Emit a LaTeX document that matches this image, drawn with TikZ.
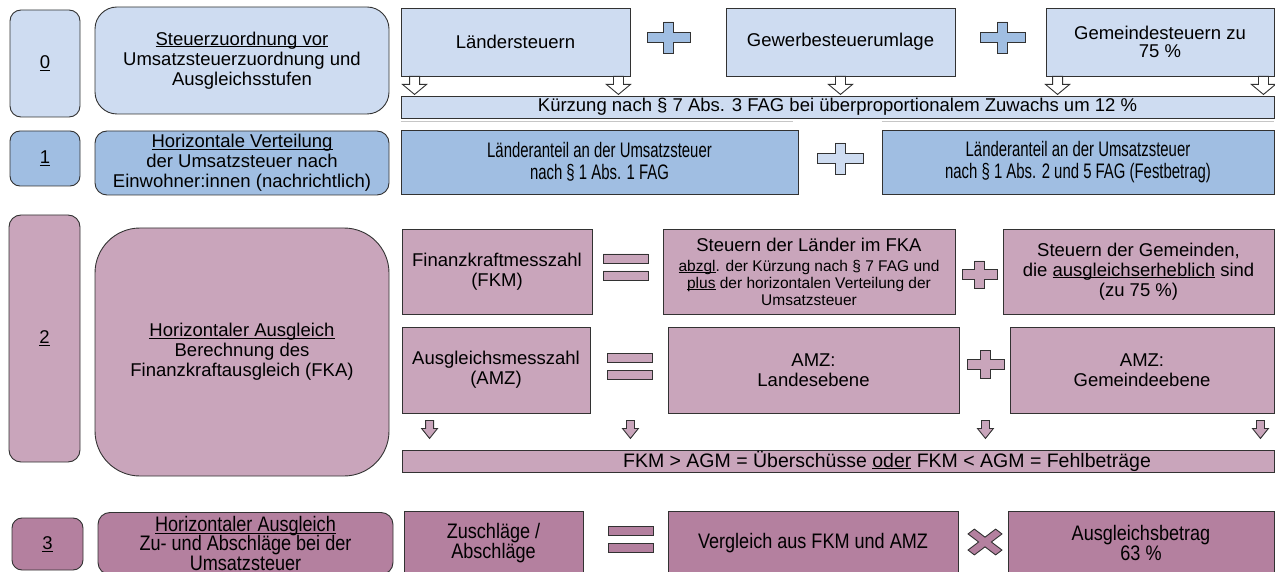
\documentclass[tikz,border=0pt]{standalone}
\usepackage{fontspec}
\setmainfont{Liberation Sans}
\newfontfamily\narrowfont[FakeStretch=0.71]{Liberation Sans}
\newfontfamily\tallfont[FakeStretch=0.86]{Liberation Sans}
\usepackage{tikz}
\usetikzlibrary{positioning}
\definecolor{paleblue}{RGB}{206,220,241}
\definecolor{midblue}{RGB}{160,190,226}
\definecolor{mauve}{RGB}{201,165,187}
\definecolor{deepmauve}{RGB}{180,128,159}
\definecolor{edge}{RGB}{50,50,50}
\newcommand{\smalltxt}{\fontsize{15.5}{17}\selectfont}
\newcommand{\uln}[1]{\underline{\raisebox{0pt}[\height][0pt]{#1}}}
\newcommand{\plussign}[4][]{\draw[op,#1] #2 ++(-5,-#4) -- ++(10,0) -- ++(0,#4-5) -- ++(#3-5,0) -- ++(0,10) -- ++(5-#3,0) -- ++(0,#4-5) -- ++(-10,0) -- ++(0,5-#4) -- ++(5-#3,0) -- ++(0,-10) -- ++(#3-5,0) -- cycle;}
\newcommand{\equalsign}[2][]{\draw[op,#1] #2 ++(-22.5,-13) rectangle ++(45,9) #2 ++(-22.5,4) rectangle ++(45,9);}
\newcommand{\crosssign}[2][]{\draw[op,#1,shift={#2},yscale=0.76,rotate=45] (-4.5,-19.5) -- (4.5,-19.5) -- (4.5,-4.5) -- (19.5,-4.5) -- (19.5,4.5) -- (4.5,4.5) -- (4.5,19.5) -- (-4.5,19.5) -- (-4.5,4.5) -- (-19.5,4.5) -- (-19.5,-4.5) -- (-4.5,-4.5) -- cycle;}
\newcommand{\blockarrow}[4][]{\draw[op,#1] #2 ++(-#3,0) -- ++(2*#3,0) -- ++(0,8) -- ++(#4-#3,0) -- ++(-#4,10) -- ++(-#4,-10) -- ++(#4-#3,0) -- cycle;}

\begin{document}
\begin{tikzpicture}[x=1pt,y=-1pt,font=\fontsize{18.5}{20}\selectfont,
    numbox/.style={draw=edge,line width=0.9pt,rounded corners=11pt,align=center,inner sep=0pt},
    titlebox/.style={draw=edge,line width=0.9pt,align=center,inner sep=0pt},
    cell/.style={draw=edge,line width=0.9pt,align=center,inner sep=1pt},
    op/.style={draw=edge,line width=0.9pt,line join=miter},
    narrow/.style={font={\narrowfont\fontsize{21}{22}\selectfont}},
    tall/.style={font={\tallfont\fontsize{21}{18.5}\selectfont}}]
    \useasboundingbox (0,0) rectangle (1275,572);
    \clip (0,0) rectangle (1275,572);

    \node [numbox,fill=paleblue,minimum width=70,minimum height=107] (n0) at (45,63.5) {\uln{0}};
    \node [titlebox,fill=paleblue,rounded corners=22pt,minimum width=294,minimum height=107] (ttl0) at (242,60.5)
        {\uln{Steuerzuordnung vor}\\Umsatzsteuerzuordnung und\\Ausgleichsstufen};
    \node [cell,fill=paleblue,minimum width=229,minimum height=68] (laender) at (515.5,42) {Ländersteuern};
    \node [cell,fill=paleblue,minimum width=229,minimum height=68] (gewerbe) at (840.5,42) {Gewerbesteuerumlage};
    \node [cell,fill=paleblue,minimum width=228,minimum height=68] (gemeinde) at (1160,42) {Gemeindesteuern zu\\[-2pt]75 \%};
    \node [cell,fill=paleblue,minimum width=873,minimum height=22,inner sep=0pt] (kuerzung) at (837.5,107)
        {Kürzung nach § 7 Abs. 3 FAG bei überproportionalem Zuwachs um 12 \%};
    \plussign[fill=midblue]{(668.5,37.5)}{21.5}{15.5}
    \plussign[fill=midblue]{(1002.5,37.5)}{22.5}{15.5}
    \blockarrow[fill=white]{([xshift=14pt]laender.south west)}{5}{12}
    \blockarrow[fill=white]{([xshift=-12pt]laender.south east)}{5}{12}
    \blockarrow[fill=white]{(gewerbe.south)}{5}{12}
    \blockarrow[fill=white]{([xshift=12pt]gemeinde.south west)}{5}{12}
    \blockarrow[fill=white]{([xshift=-11pt]gemeinde.south east)}{5}{12}

    \node [numbox,fill=midblue,rounded corners=10pt,minimum width=70,minimum height=55] (n1) at (45,158.5) {\uln{1}};
    \node [titlebox,fill=midblue,rounded corners=12pt,minimum width=294,minimum height=64] (ttl1) at (242,163)
        {\uln{Horizontale Verteilung}\\der Umsatzsteuer nach\\Einwohner:innen (nachrichtlich)};
    \node [cell,fill=midblue,minimum width=397,minimum height=64,narrow] (anteilA) at (599.5,162)
        {Länderanteil an der Umsatzsteuer\\nach § 1 Abs. 1 FAG};
    \node [cell,fill=midblue,minimum width=392,minimum height=64,narrow] (anteilB) at (1078,162)
        {Länderanteil an der Umsatzsteuer\\nach § 1 Abs. 2 und 5 FAG (Festbetrag)};
    \plussign[fill=paleblue]{(840,158.5)}{23}{15.5}
    \draw [gray!45,line width=0.8pt] ([yshift=8pt]anteilA.north west) -- ([yshift=8pt,xshift=-5pt]anteilA.north east);
    \draw [gray!45,line width=0.8pt] ([yshift=8pt]anteilB.north west) -- ([yshift=8pt]anteilB.north east);

    \node [numbox,fill=mauve,rounded corners=12pt,minimum width=71,minimum height=247] (n2) at (44.5,338.5) {\uln{2}};
    \node [titlebox,fill=mauve,rounded corners=45pt,minimum width=294,minimum height=248] (ttl2) at (242,352)
        {\uln{Horizontaler Ausgleich}\\Berechnung des\\Finanzkraftausgleich (FKA)};
    \node [cell,fill=mauve,minimum width=190,minimum height=85] (fkm) at (497,271.5) {Finanzkraftmesszahl\\(FKM)};
    \node [cell,fill=mauve,minimum width=292,minimum height=85] (fkmL) at (809,271.5)
        {Steuern der Länder im FKA\\\smalltxt\uln{abzgl}. der Kürzung nach § 7 FAG und\\[-3pt]
         \smalltxt\uln{plus} der horizontalen Verteilung der\\[-3pt]\smalltxt Umsatzsteuer};
    \node [cell,fill=mauve,minimum width=271,minimum height=85] (fkmG) at (1138.5,271.5)
        {Steuern der Gemeinden,\\die \uln{ausgleichserheblich} sind\\(zu 75 \%)};
    \node [cell,fill=mauve,minimum width=188,minimum height=86] (amz) at (496,370) {Ausgleichsmesszahl\\(AMZ)};
    \node [cell,fill=mauve,minimum width=291,minimum height=86] (amzL) at (813.5,370) {AMZ:\\Landesebene};
    \node [cell,fill=mauve,minimum width=264,minimum height=86] (amzG) at (1142,370) {AMZ:\\Gemeindeebene};
    \node [cell,fill=mauve,minimum width=872,minimum height=22,inner sep=0pt,font=\fontsize{19.5}{20}\selectfont] (ueberschuss) at (838,461)
        {\hspace*{98pt}FKM > AGM = Überschüsse \uln{oder} FKM < AGM = Fehlbeträge};
    \equalsign[fill=mauve]{(625.5,267)}
    \equalsign[fill=mauve]{(630,366)}
    \plussign[fill=mauve]{(979.5,274.5)}{17.5}{13.5}
    \plussign[fill=mauve]{(985.5,364)}{18.5}{14}
    \blockarrow[fill=mauve]{([xshift=28pt,yshift=-7pt]amz.south west)}{4}{8}
    \blockarrow[fill=mauve]{([xshift=40pt,yshift=-7pt]amz.south east)}{4}{8}
    \blockarrow[fill=mauve]{([xshift=26pt,yshift=-7pt]amzL.south east)}{4}{8}
    \blockarrow[fill=mauve]{([xshift=-14pt,yshift=-7pt]amzG.south east)}{4}{8}

    \node [numbox,fill=deepmauve,rounded corners=10pt,minimum width=71,minimum height=52] (n3) at (47.5,544) {\uln{3}};
    \node [titlebox,fill=deepmauve,rounded corners=12pt,minimum width=295,minimum height=62,tall] (ttl3) at (245.5,543.5)
        {\uln{Horizontaler Ausgleich}\\Zu- und Abschläge bei der\\Umsatzsteuer};
    \node [cell,fill=deepmauve,minimum width=179,minimum height=64,tall] (zuab) at (493.5,543) {Zuschläge /\\Abschläge};
    \node [cell,fill=deepmauve,minimum width=290,minimum height=64,tall] (vergleich) at (813,543) {Vergleich aus FKM und AMZ};
    \node [cell,fill=deepmauve,minimum width=266,minimum height=64,tall] (betrag) at (1141,543) {Ausgleichsbetrag\\63 \%};
    \equalsign[fill=deepmauve]{(631,539)}
    \crosssign[fill=deepmauve]{(985,542)}
\end{tikzpicture}
\end{document}
